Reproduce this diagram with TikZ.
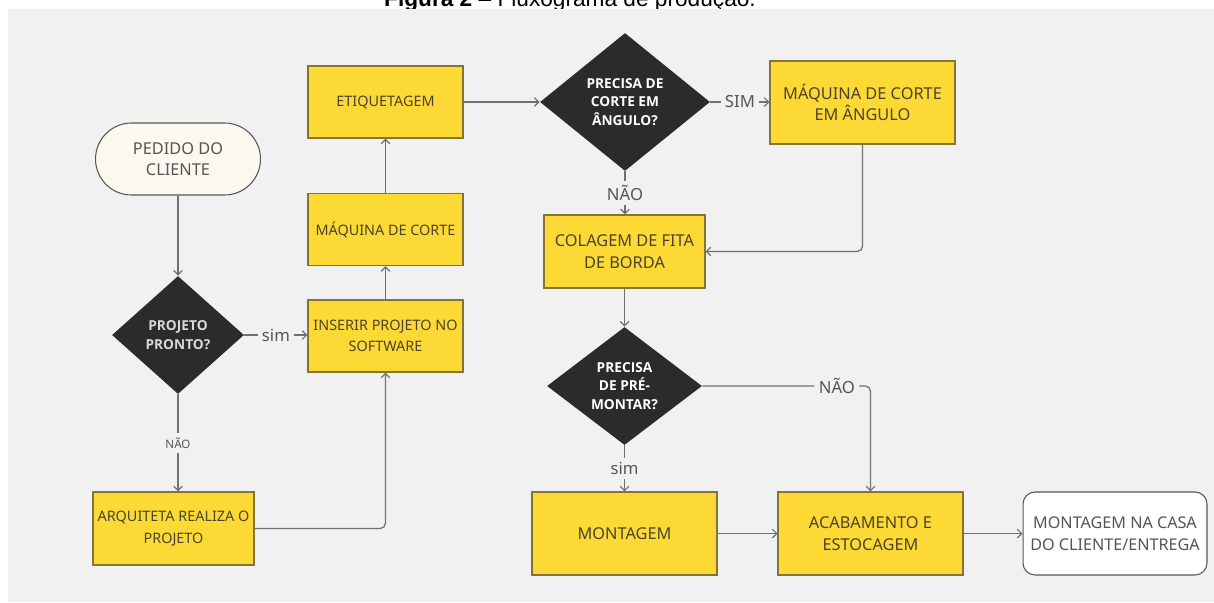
\documentclass[tikz,border=0pt]{standalone}
\usepackage{fontspec}
\setmainfont{Noto Sans}
\newfontfamily\negrito{Open Sans}
\newfontfamily\legendafont{Liberation Sans}
\usetikzlibrary{arrows.meta, shapes.geometric}
\definecolor{fundo}{HTML}{F1F1F1}
\definecolor{amarelo}{HTML}{FDD935}
\definecolor{bordaamarela}{HTML}{857432}
\definecolor{textoamarelo}{HTML}{4A4330}
\definecolor{losango}{HTML}{2B2B2B}
\definecolor{linha}{HTML}{707070}
\definecolor{textocinza}{HTML}{555555}
\definecolor{creme}{HTML}{FBF8EF}

\begin{document}
\begin{tikzpicture}[x = 0.02cm, y = -0.02cm,
    processo/.style = {draw = bordaamarela, fill = amarelo, line width = 0.6pt, text = textoamarelo, align = center,
                       minimum width = 3.1cm, minimum height = 1.44cm, inner sep = 2pt, font = \fontsize{8.2}{12.3}\selectfont},
    grande/.style   = {font = \fontsize{9.3}{12.3}\selectfont},
    decisao/.style  = {diamond, fill = losango, text = white, align = center, inner sep = 0pt,
                       font = \negrito\bfseries\fontsize{7.8}{10.4}\selectfont},
    terminal/.style = {draw = textocinza, line width = 0.6pt, text = textocinza, align = center, font = \fontsize{9.3}{12.3}\selectfont},
    rotulo/.style   = {fill = fundo, text = textocinza, inner sep = 2.5pt, font = \fontsize{9.5}{11}\selectfont},
    seta/.style     = {draw = linha, line width = 0.7pt, -{Straight Barb[length = 2.5pt, width = 5pt]}}]

  % fundo e legenda
  \useasboundingbox (0,0) rectangle (1214,602);
  \clip (0,0) rectangle (1214,602);
  \node[anchor = base, text = black, font = \legendafont\fontsize{12.9}{15}\selectfont] (legenda) at (570,6)
    {\textbf{Figura 2} – Fluxograma de produção.};
  \fill[fundo] (8,9) rectangle (1214,602);

  % coluna da esquerda
  \node[terminal, fill = creme, minimum width = 3.3cm, minimum height = 1.44cm, rounded corners = 0.72cm] (pedido) at (178,159) {PEDIDO DO\\CLIENTE};
  \node[decisao, minimum width = 2.64cm, minimum height = 2.36cm, font = \negrito\bfseries\fontsize{7.8}{10.8}\selectfont, text = white!85!black] (pronto) at (178,335) {PROJETO\\PRONTO?};
  \node[processo, minimum width = 3.22cm, minimum height = 1.46cm] (arquiteta) at (173.5,528.5) {ARQUITETA REALIZA O\\PROJETO};

  % coluna do meio
  \node[processo] (inserir) at (385.5,336) {INSERIR PROJETO NO\\SOFTWARE};
  \node[processo] (corte) at (385.5,229.5) {MÁQUINA DE CORTE};
  \node[processo] (etiqueta) at (385.5,102) {ETIQUETAGEM};

  % decisoes da direita
  \node[decisao, minimum width = 3.4cm, minimum height = 2.76cm] (angulo) at (625,102) {PRECISA DE\\CORTE EM\\ÂNGULO?};
  \node[processo, grande, minimum width = 3.7cm, minimum height = 1.66cm] (corteangulo) at (862.5,102.5) {MÁQUINA DE CORTE\\EM ÂNGULO};
  \node[processo, grande, minimum width = 3.22cm, minimum height = 1.46cm] (colagem) at (624.5,251.5) {COLAGEM DE FITA\\DE BORDA};
  \node[decisao, minimum width = 3.1cm, minimum height = 2.36cm] (premontar) at (624.5,386) {PRECISA\\DE PRÉ-\\MONTAR?};

  % linha de baixo
  \node[processo, grande, minimum width = 3.7cm, minimum height = 1.66cm] (montagem) at (624.5,533.5) {MONTAGEM};
  \node[processo, grande, minimum width = 3.7cm, minimum height = 1.66cm] (acabamento) at (870.5,533.5) {ACABAMENTO E\\ESTOCAGEM};
  \node[terminal, fill = white, minimum width = 3.68cm, minimum height = 1.66cm, rounded corners = 0.24cm,
        font = \fontsize{9.2}{12.3}\selectfont] (entrega) at (1115,533.5) {MONTAGEM NA CASA\\DO CLIENTE/ENTREGA};

  % conectores
  \draw[seta] (pedido.south) -- (pronto.north);
  \draw[seta] (pronto.east) -- node[rotulo] {sim} (pronto.east -| inserir.west);
  \draw[seta] (pronto.south) -- node[rotulo, font = \fontsize{6.6}{8}\selectfont] {NÃO} (pronto.south |- arquiteta.north);
  \draw[seta, rounded corners = 3pt] (arquiteta.east) -| (inserir.south);
  \draw[seta] (inserir.north) -- (corte.south);
  \draw[seta] (corte.north) -- (etiqueta.south);
  \draw[seta] (etiqueta.east) -- (angulo.west);
  \draw[seta] (angulo.east) -- node[rotulo] {SIM} (angulo.east -| corteangulo.west);
  \draw[seta] (angulo.south) -- node[rotulo] {NÃO} (angulo.south |- colagem.north);
  \draw[seta, rounded corners = 3pt] (corteangulo.south) |- (colagem.east);
  \draw[seta] (colagem.south) -- (premontar.north);
  \draw[seta] (premontar.south) -- node[rotulo] {sim} (premontar.south |- montagem.north);
  \draw[seta, rounded corners = 3pt] (premontar.east) -| node[rotulo, pos = 0.4] {NÃO} (acabamento.north);
  \draw[seta] (montagem.east) -- (acabamento.west);
  \draw[seta] (acabamento.east) -- (entrega.west);
\end{tikzpicture}
\end{document}
